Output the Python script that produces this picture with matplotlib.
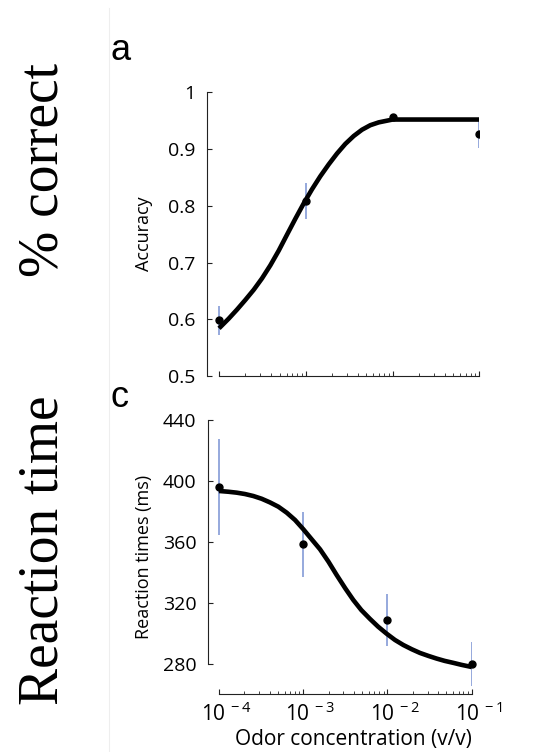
import numpy as np
import matplotlib
matplotlib.use("Agg")
import matplotlib.pyplot as plt
from matplotlib.lines import Line2D
from matplotlib.ticker import FixedLocator, NullFormatter
from matplotlib.transforms import ScaledTranslation

plt.rcParams['font.family'] = ['Open Sans', 'DejaVu Sans']
plt.rcParams['mathtext.fontset'] = 'custom'
plt.rcParams['mathtext.rm'] = 'Open Sans'
plt.rcParams['mathtext.it'] = 'Open Sans'
plt.rcParams['mathtext.default'] = 'regular'

# ---------------- data ----------------
conc = [1e-4, 1e-3, 1e-2, 1e-1]

acc = [0.598, 0.809, 0.956, 0.926]
acc_err = [0.026, 0.032, 0.006, 0.024]

rt = [396.0, 358.7, 309.2, 280.2]
rt_err = [31.5, 21.3, 17.0, 14.3]

# fitted curves (log10 concentration, value)
acc_fit_logc = [-4.0, -3.889, -3.793, -3.697, -3.600, -3.505, -3.409, -3.312, -3.217, -3.121,
                -3.025, -2.929, -2.833, -2.736, -2.641, -2.545, -2.448, -2.353, -2.257, -2.160,
                -2.064, -2.0, -1.0]
acc_fit_val = [0.584, 0.601, 0.617, 0.634, 0.652, 0.672, 0.695, 0.721, 0.749, 0.777,
               0.804, 0.829, 0.852, 0.873, 0.892, 0.909, 0.923, 0.934, 0.942, 0.947,
               0.950, 0.952, 0.952]

rt_fit_logc = [-4.0, -3.889, -3.790, -3.691, -3.592, -3.493, -3.394, -3.295, -3.196, -3.097,
               -2.998, -2.90, -2.80, -2.70, -2.603, -2.50, -2.405, -2.31, -2.207, -2.11,
               -2.009, -1.91, -1.811, -1.71, -1.613, -1.51, -1.415, -1.32, -1.217, -1.12, -1.0]
rt_fit_val = [393.5, 393.0, 392.4, 391.5, 390.2, 388.4, 386.0, 383.2, 379.3, 374.5,
              368.4, 361.9, 355.3, 347.2, 338.5, 329.7, 322.1, 315.5, 309.7, 304.6,
              300.0, 295.9, 292.6, 289.8, 287.4, 285.4, 283.7, 282.2, 280.9, 279.6, 278.2]

acc_yticks = [0.5, 0.6, 0.7, 0.8, 0.9, 1.0]
acc_yticklabels = ['0.5', '0.6', '0.7', '0.8', '0.9', '1']
rt_yticks = [280, 320, 360, 400, 440]
rt_yticklabels = ['280', '320', '360', '400', '440']
xtick_labels = [r'$10^{\,-4}$', r'$10^{\,-3}$', r'$10^{\,-2}$', r'$10^{\,-1}$']

W, H = 547, 752
fig = plt.figure(figsize=(W / 100, H / 100), dpi=100)

err_color = '#8ea3da'
tick_fs = 14
label_fs = 13

minor_ticks = [m * d for d in (1e-4, 1e-3, 1e-2) for m in range(2, 10)]


def style_axis(ax, ybounds):
    ax.set_xscale('log')
    for s in ['top', 'right']:
        ax.spines[s].set_visible(False)
    ax.spines['left'].set_bounds(*ybounds)
    ax.spines['bottom'].set_bounds(1e-4, 1e-1)
    for s in ['left', 'bottom']:
        ax.spines[s].set_linewidth(0.8)
        ax.spines[s].set_color('#222222')
        ax.spines[s].set_clip_on(False)
    ax.xaxis.set_minor_locator(FixedLocator(minor_ticks))
    ax.xaxis.set_minor_formatter(NullFormatter())
    ax.tick_params(axis='both', which='major', direction='in', length=3.5, width=0.8,
                   color='#222222', labelsize=tick_fs, pad=8)
    ax.tick_params(axis='x', which='minor', direction='in', length=2, width=0.6, color='#222222')
    ax.tick_params(axis='y', which='minor', left=False)


# ---------------- top panel ----------------
ax1 = fig.add_axes([206.7 / W, 1 - 376 / H, (479.4 - 206.7) / W, (376 - 92.3) / H])
style_axis(ax1, (0.5, 1.0))
ax1.set_xlim(10 ** -4.142, 1e-1)
ax1.set_ylim(0.5, 1.0)
ax1.errorbar(conc, acc, yerr=acc_err, fmt='none', ecolor=err_color, elinewidth=1.3, capsize=0, zorder=2)
ax1.plot(10 ** np.array(acc_fit_logc), acc_fit_val, color='black', lw=3.3, solid_capstyle='butt',
         solid_joinstyle='round', zorder=3)
ax1.plot(conc, acc, 'o', color='black', ms=5, zorder=4)
ax1.set_xticks(conc)
ax1.set_xticklabels([])
ax1.set_yticks(acc_yticks)
ax1.set_yticklabels(acc_yticklabels)
ax1.set_ylabel('Accuracy', fontsize=label_fs)
ax1.yaxis.set_label_coords((153 - 206.7) / (479.4 - 206.7), 0.5)

# ---------------- bottom panel ----------------
ax2 = fig.add_axes([207.7 / W, 1 - 694 / H, (471.6 - 207.7) / W, (694 - 420) / H])
style_axis(ax2, (280, 440))
ax2.set_xlim(10 ** -4.134, 1e-1)
ax2.set_ylim(260.5, 440)
ax2.errorbar(conc, rt, yerr=rt_err, fmt='none', ecolor=err_color, elinewidth=1.3, capsize=0, zorder=2)
ax2.plot(10 ** np.array(rt_fit_logc), rt_fit_val, color='black', lw=3.3, solid_capstyle='butt',
         solid_joinstyle='round', zorder=3)
ax2.plot(conc, rt, 'o', color='black', ms=5, zorder=4, clip_on=False)
ax2.set_yticks(rt_yticks)
ax2.set_yticklabels(rt_yticklabels)
ax2.set_xticks(conc)
ax2.set_xticklabels(xtick_labels)
ax2.tick_params(axis='x', which='major', labelsize=tick_fs + 1, pad=6)
shift = ScaledTranslation(7 / 100, 0, fig.dpi_scale_trans)
for lab in ax2.get_xticklabels():
    lab.set_transform(lab.get_transform() + shift)
ax2.set_ylabel('Reaction times (ms)', fontsize=label_fs)
ax2.yaxis.set_label_coords((153 - 207.7) / (471.6 - 207.7), 0.5)
ax2.set_xlabel('Odor concentration (v/v)', fontsize=15)
ax2.xaxis.set_label_coords((353.5 - 207.7) / (471.6 - 207.7), (694 - 729) / (694 - 420))

# ---------------- figure decorations ----------------
fig.add_artist(Line2D([108.5 / W, 108.5 / W], [0, 1 - 8 / H], transform=fig.transFigure,
                      color='#eeeeee', lw=0.8))
fig.text(110 / W, 1 - 60 / H, 'a', fontsize=26, family='Liberation Sans', va='baseline', ha='left')
fig.text(110 / W, 1 - 407 / H, 'c', fontsize=26, family='Liberation Sans', va='baseline', ha='left')
fig.text(58 / W, 1 - 170 / H, '% correct', fontsize=40, family='Liberation Serif', rotation=90,
         rotation_mode='anchor', ha='center', va='baseline')
fig.text(58 / W, 1 - 550 / H, 'Reaction time', fontsize=40, family='Liberation Serif', rotation=90,
         rotation_mode='anchor', ha='center', va='baseline')

fig.savefig('out.png', dpi=100, facecolor='white')
